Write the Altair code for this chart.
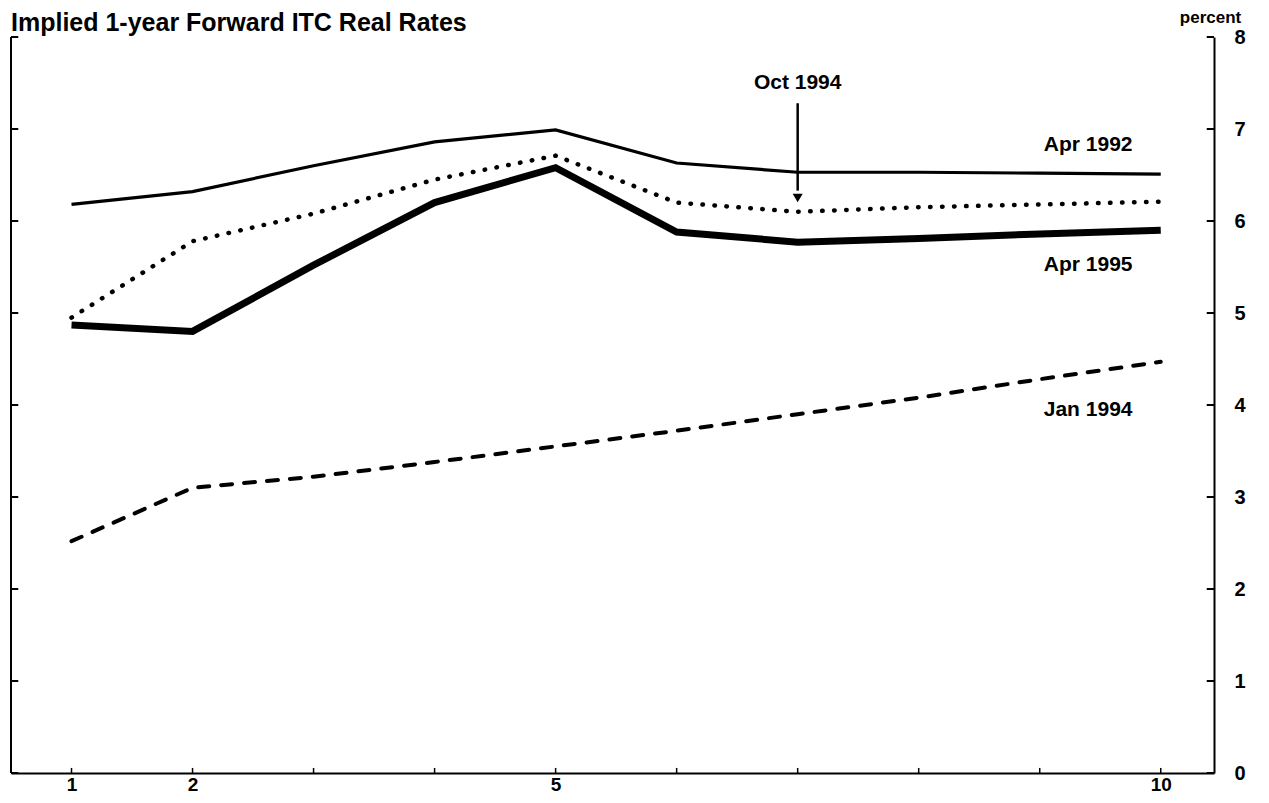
import altair as alt
import pandas as pd

# ---- data ----
maturity = [1, 2, 3, 4, 5, 6, 7, 8, 9, 10]
apr1992 = [6.18, 6.32, 6.60, 6.86, 6.99, 6.63, 6.53, 6.53, 6.52, 6.51]
oct1994 = [4.95, 5.78, 6.08, 6.45, 6.71, 6.20, 6.10, 6.15, 6.18, 6.21]
apr1995 = [4.87, 4.80, 5.52, 6.20, 6.58, 5.88, 5.77, 5.81, 5.86, 5.90]
jan1994 = [2.52, 3.10, 3.22, 3.38, 3.55, 3.72, 3.90, 4.08, 4.28, 4.47]

x_label_values = [1, 2, 5, 10]
y_tick_values = [0, 1, 2, 3, 4, 5, 6, 7, 8]

label_text = ["Apr 1992", "Apr 1995", "Jan 1994", "Oct 1994"]
label_x = [9.4, 9.4, 9.4, 7.0]
label_y = [6.83, 5.52, 3.95, 7.50]

arrow_x = 7.0
arrow_top = 7.28
arrow_tip = 6.25

X_MIN, X_MAX = 0.5, 10.44
Y_MIN, Y_MAX = 0, 8
FONT = "Liberation Sans"

xscale = alt.Scale(domain=[X_MIN, X_MAX], nice=False, zero=False)
yscale = alt.Scale(domain=[Y_MIN, Y_MAX], nice=False, zero=False)

def series_df(vals):
    return pd.DataFrame({"m": maturity, "v": vals})

x_axis = alt.Axis(
    values=maturity, format="d",
    labelExpr="indexof([1,2,5,10], datum.value) >= 0 ? datum.label : ''",
    ticks=False, grid=False, title=None, domainColor="black", domainWidth=2,
    labelFontSize=19, labelFontWeight="bold", labelColor="black", labelPadding=2,
    labelFont=FONT,
)
y_axis = alt.Axis(
    orient="right", values=y_tick_values, format="d", ticks=False, grid=False,
    domainColor="black", domainWidth=2,
    labelFontSize=20, labelFontWeight="bold", labelColor="black", labelPadding=20,
    labelFont=FONT,
    title="percent", titleAngle=0, titleX=-4, titleY=-15, titleAlign="center",
    titleBaseline="alphabetic", titleFontSize=17, titleFontWeight="bold", titleFont=FONT,
    titleColor="black",
)

def line_layer(vals, **style):
    return alt.Chart(series_df(vals)).mark_line(color="black", **style).encode(
        x=alt.X("m:Q", scale=xscale, axis=x_axis),
        y=alt.Y("v:Q", scale=yscale, axis=y_axis),
    )

l1 = line_layer(apr1992, strokeWidth=3.2)
l2 = line_layer(oct1994, strokeWidth=4.5, strokeDash=[0.5, 11.5], strokeCap="round")
l3 = line_layer(apr1995, strokeWidth=7, strokeJoin="miter")
l4 = line_layer(jan1994, strokeWidth=4, strokeDash=[11, 12], strokeCap="round")

# left border
left_border = alt.Chart(pd.DataFrame({"a": [0]})).mark_rule(color="black", strokeWidth=2).encode(
    x=alt.datum(X_MIN, scale=xscale), y=alt.datum(Y_MIN, scale=yscale), y2=alt.datum(Y_MAX)
)

# inward ticks
tick_dx = 0.06
tick_dy = 0.055
left_ticks = alt.Chart(pd.DataFrame({"t": y_tick_values})).mark_rule(color="black", strokeWidth=2).encode(
    x=alt.datum(X_MIN, scale=xscale), x2=alt.datum(X_MIN + tick_dx),
    y=alt.Y("t:Q", scale=yscale),
)
right_ticks = alt.Chart(pd.DataFrame({"t": y_tick_values})).mark_rule(color="black", strokeWidth=2).encode(
    x=alt.datum(X_MAX, scale=xscale), x2=alt.datum(X_MAX - tick_dx),
    y=alt.Y("t:Q", scale=yscale),
)
bottom_ticks = alt.Chart(pd.DataFrame({"t": maturity})).mark_rule(color="black", strokeWidth=1.5).encode(
    x=alt.X("t:Q", scale=xscale), y=alt.datum(Y_MIN, scale=yscale), y2=alt.datum(Y_MIN + tick_dy),
)

labels = alt.Chart(pd.DataFrame({"t": label_text, "x": label_x, "y": label_y})).mark_text(
    font=FONT, fontSize=21, fontWeight="bold", color="black", align="center", baseline="middle"
).encode(
    x=alt.X("x:Q", scale=xscale), y=alt.Y("y:Q", scale=yscale), text="t:N"
)

arrow_shaft = alt.Chart(pd.DataFrame({"a": [0]})).mark_rule(color="black", strokeWidth=2.5).encode(
    x=alt.datum(arrow_x, scale=xscale), y=alt.datum(arrow_top, scale=yscale), y2=alt.datum(arrow_tip + 0.08)
)
arrow_head = alt.Chart(pd.DataFrame({"a": [0]})).mark_point(
    shape="triangle-down", filled=True, color="black", size=100, opacity=1
).encode(
    x=alt.datum(arrow_x, scale=xscale), y=alt.datum(arrow_tip, scale=yscale)
)

chart = alt.layer(
    left_border, left_ticks, right_ticks, bottom_ticks,
    l4, l1, l2, l3, labels, arrow_shaft, arrow_head,
).properties(
    width=1203, height=736,
    padding={"left": 2, "top": 0, "right": 0, "bottom": 0},
    title=alt.TitleParams(
        "Implied 1-year Forward ITC Real Rates", anchor="start", frame="group",
        font=FONT, fontSize=25, fontWeight="bold", color="black", offset=0, dy=28,
    ),
    background="white",
).configure_view(stroke=None)

chart.save("out.html", embed_options={"renderer": "svg", "actions": False})
